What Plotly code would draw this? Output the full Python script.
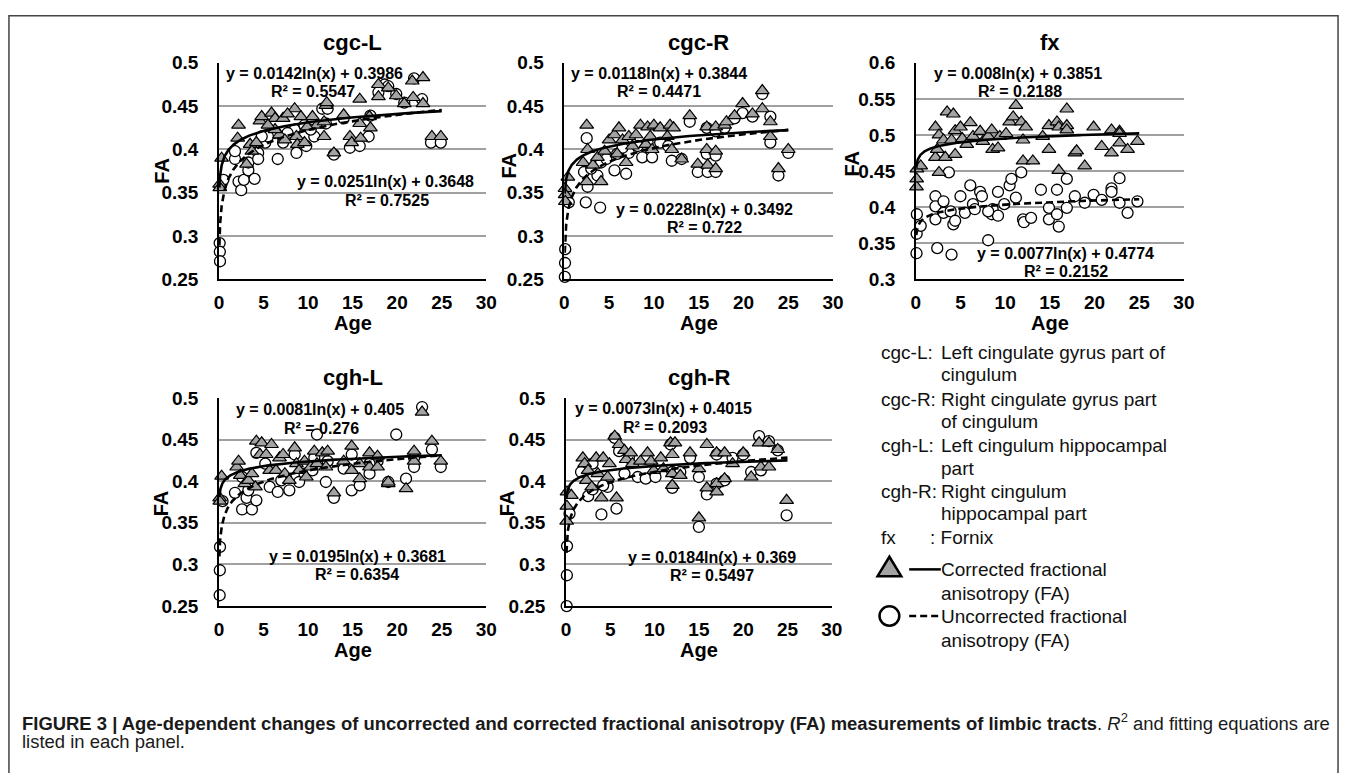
import numpy as np
import plotly.graph_objects as go

W, H = 1352, 773

# ---------------- DATA ----------------
# cgc-L
cgcL_corr_age = [0.3, 0.08, 0.1, 2.2, 2.1, 3.1, 3.5, 4.2, 4.6, 4.8, 5.9, 6.3, 6.8, 7.2, 7.4, 8.5, 8.7, 8.8, 9.2, 9.6,
                 10.5, 11.0, 11.8, 12.0, 12.1, 12.9, 14.0, 14.7, 14.9, 15.8, 15.8, 15.9, 16.9, 17.0, 17.9, 17.9, 19.0,
                 19.9, 20.8, 21.7, 21.8, 22.9, 22.9, 23.9, 24.9, 6.3, 5.5, 3.7, 7.7, 9.9, 11.8]
cgcL_corr_fa = [0.390, 0.360, 0.356, 0.428, 0.413, 0.383, 0.406, 0.408, 0.433, 0.438, 0.442, 0.436, 0.417, 0.436,
                0.411, 0.447, 0.415, 0.406, 0.438, 0.408, 0.438, 0.428, 0.415, 0.451, 0.454, 0.396, 0.440, 0.415,
                0.408, 0.458, 0.430, 0.413, 0.438, 0.425, 0.475, 0.461, 0.471, 0.462, 0.453, 0.479, 0.460, 0.483,
                0.453, 0.415, 0.415, 0.423, 0.428, 0.398, 0.441, 0.426, 0.432]
cgcL_unc_age = [0.08, 0.1, 0.12, 0.5, 1.8, 2.2, 2.5, 2.8, 3.3, 4.0, 1.8, 4.4, 6.6, 5.2, 6.3, 7.2, 8.7, 9.8, 10.7,
                11.6, 12.2, 12.0, 12.9, 14.7, 15.8, 16.8, 17.0, 18.6, 19.0, 19.9, 21.9, 22.8, 23.8, 24.9, 8.5, 9.6,
                5.5, 7.7, 14.0, 17.9, 20.8, 3.3, 4.4, 4.8, 10.3]
cgcL_unc_fa = [0.292, 0.282, 0.271, 0.365, 0.389, 0.363, 0.353, 0.365, 0.376, 0.366, 0.398, 0.396, 0.389, 0.408,
               0.419, 0.408, 0.396, 0.404, 0.415, 0.447, 0.447, 0.430, 0.394, 0.402, 0.404, 0.415, 0.439, 0.475,
               0.473, 0.464, 0.482, 0.458, 0.408, 0.408, 0.423, 0.428, 0.415, 0.419, 0.436, 0.466, 0.454, 0.385,
               0.389, 0.415, 0.423]
cgcL_fit_corr = [0.0142, 0.3986]
cgcL_fit_unc = [0.0251, 0.3648]

# cgc-R
cgcR_corr_age = [0.08, 0.1, 0.12, 0.4, 2.5, 2.1, 2.5, 2.6, 3.2, 3.7, 4.1, 4.5, 5.0, 5.6, 6.1, 5.9, 6.5, 6.9, 7.2, 7.6,
                 8.0, 8.5, 9.1, 9.3, 9.6, 10.0, 9.8, 10.7, 11.5, 11.8, 12.0, 12.2, 13.1, 14.0, 14.9, 15.9, 15.9, 16.0,
                 16.9, 16.9, 16.9, 17.9, 18.1, 19.0, 19.9, 21.0, 22.1, 22.1, 23.0, 23.0, 23.9, 25.0]
cgcR_corr_fa = [0.355, 0.348, 0.340, 0.368, 0.428, 0.385, 0.363, 0.400, 0.382, 0.391, 0.363, 0.398, 0.411, 0.417,
                0.425, 0.395, 0.411, 0.385, 0.415, 0.404, 0.417, 0.428, 0.406, 0.426, 0.415, 0.428, 0.400, 0.425,
                0.415, 0.428, 0.400, 0.425, 0.389, 0.439, 0.383, 0.426, 0.400, 0.382, 0.426, 0.398, 0.378, 0.428,
                0.432, 0.439, 0.453, 0.441, 0.447, 0.468, 0.432, 0.415, 0.378, 0.400]
cgcR_unc_age = [0.1, 0.08, 0.06, 0.5, 2.5, 2.4, 4.0, 2.2, 2.6, 3.7, 4.1, 5.6, 6.9, 7.2, 8.7, 9.8, 12.0, 13.1, 14.0,
                14.9, 15.9, 16.0, 16.9, 16.9, 19.9, 21.0, 22.1, 23.0, 23.0, 23.9, 25.0, 5.9, 6.5, 8.2, 9.3, 10.7,
                11.6, 15.9, 16.9, 17.9, 19.0, 3.0, 4.7]
cgcR_unc_fa = [0.285, 0.269, 0.253, 0.339, 0.413, 0.339, 0.333, 0.374, 0.357, 0.370, 0.385, 0.376, 0.372, 0.396,
               0.391, 0.391, 0.387, 0.389, 0.432, 0.374, 0.395, 0.374, 0.374, 0.393, 0.442, 0.438, 0.464, 0.438,
               0.408, 0.370, 0.396, 0.395, 0.402, 0.404, 0.408, 0.408, 0.404, 0.425, 0.421, 0.425, 0.436, 0.378,
               0.389]
cgcR_fit_corr = [0.0118, 0.3844]
cgcR_fit_unc = [0.0228, 0.3492]

# fx
fx_corr_age = [0.08, 0.1, 0.12, 0.55, 2.2, 2.2, 2.4, 2.6, 2.6, 3.1, 3.3, 3.5, 4.2, 4.4, 4.0, 4.4, 5.0, 5.2, 6.1, 5.7,
               6.4, 7.2, 7.5, 8.1, 8.5, 8.6, 9.2, 9.4, 10.1, 10.5, 10.9, 11.2, 11.8, 12.0, 12.0, 12.3, 13.1, 14.2,
               14.9, 14.9, 15.8, 16.0, 16.0, 16.9, 16.9, 16.9, 17.8, 18.0, 18.9, 19.9, 20.8, 21.9, 21.9, 22.8, 22.8,
               23.7, 24.8, 22.8]
fx_corr_fa = [0.428, 0.439, 0.453, 0.457, 0.511, 0.469, 0.480, 0.500, 0.448, 0.493, 0.469, 0.532, 0.529, 0.473,
              0.493, 0.506, 0.511, 0.495, 0.517, 0.487, 0.498, 0.505, 0.491, 0.498, 0.507, 0.480, 0.482, 0.498,
              0.502, 0.518, 0.525, 0.541, 0.518, 0.493, 0.464, 0.511, 0.464, 0.498, 0.513, 0.480, 0.518, 0.511,
              0.451, 0.536, 0.513, 0.507, 0.475, 0.478, 0.457, 0.511, 0.484, 0.475, 0.507, 0.505, 0.489, 0.480,
              0.491, 0.502]
fx_unc_age = [0.08, 0.1, 0.12, 0.55, 2.4, 4.0, 2.2, 2.2, 2.2, 3.1, 3.7, 3.9, 4.2, 4.4, 5.0, 5.5, 6.1, 6.4, 6.6, 7.2,
              7.4, 8.1, 8.5, 8.6, 9.2, 9.2, 9.9, 10.5, 10.7, 11.2, 11.8, 12.0, 12.1, 12.9, 14.0, 14.9, 14.9, 15.8,
              15.8, 16.0, 16.9, 16.9, 17.8, 18.9, 19.9, 20.8, 21.9, 21.9, 22.8, 22.8, 23.7, 24.8, 3.1, 8.1]
fx_unc_fa = [0.336, 0.363, 0.390, 0.374, 0.343, 0.334, 0.415, 0.401, 0.383, 0.392, 0.448, 0.394, 0.376, 0.381,
             0.415, 0.392, 0.430, 0.404, 0.397, 0.421, 0.415, 0.354, 0.390, 0.397, 0.388, 0.421, 0.404, 0.430,
             0.439, 0.413, 0.448, 0.383, 0.379, 0.385, 0.424, 0.399, 0.383, 0.424, 0.390, 0.373, 0.439, 0.399,
             0.415, 0.406, 0.417, 0.410, 0.426, 0.421, 0.440, 0.406, 0.392, 0.408, 0.408, 0.394]
fx_fit_corr = [0.0077, 0.4774]
fx_fit_unc = [0.008, 0.3851]

# cgh-L
cghL_corr_age = [0.08, 0.1, 0.3, 2.0, 2.2, 2.4, 2.9, 3.3, 3.7, 4.1, 4.2, 4.6, 4.8, 5.3, 5.9, 5.7, 6.4, 6.8, 7.2, 7.4,
                 7.9, 8.5, 8.7, 9.0, 9.6, 9.8, 10.3, 10.7, 11.0, 11.6, 12.0, 12.2, 12.9, 14.0, 14.9, 14.9, 15.8,
                 15.8, 16.9, 16.9, 17.8, 17.8, 19.0, 21.0, 21.9, 21.9, 22.8, 23.9, 24.9, 19.0]
cghL_corr_fa = [0.380, 0.376, 0.406, 0.417, 0.424, 0.407, 0.397, 0.401, 0.409, 0.393, 0.448, 0.432, 0.446, 0.432,
                0.444, 0.413, 0.413, 0.428, 0.432, 0.409, 0.401, 0.440, 0.421, 0.413, 0.424, 0.405, 0.417, 0.436,
                0.421, 0.434, 0.417, 0.436, 0.386, 0.424, 0.442, 0.413, 0.421, 0.403, 0.434, 0.417, 0.430, 0.417,
                0.397, 0.391, 0.436, 0.424, 0.483, 0.448, 0.424, 0.399]
cghL_unc_age = [0.08, 0.1, 0.12, 0.4, 1.8, 2.6, 3.1, 3.7, 4.2, 4.2, 5.7, 6.6, 7.0, 7.9, 9.0, 9.6, 10.5, 11.0, 12.0,
                12.9, 14.0, 14.9, 15.8, 16.9, 19.0, 19.9, 21.0, 21.9, 22.8, 23.9, 24.9, 5.2, 8.5, 10.7, 14.9, 17.8,
                16.9, 3.3, 2.6, 12.2, 21.9]
cghL_unc_fa = [0.263, 0.293, 0.321, 0.376, 0.386, 0.366, 0.380, 0.366, 0.377, 0.434, 0.393, 0.387, 0.401, 0.389,
               0.399, 0.409, 0.413, 0.456, 0.399, 0.380, 0.415, 0.389, 0.395, 0.409, 0.399, 0.456, 0.403, 0.417,
               0.489, 0.438, 0.417, 0.421, 0.432, 0.428, 0.432, 0.424, 0.421, 0.389, 0.405, 0.424, 0.428]
cghL_fit_corr = [0.0081, 0.405]
cghL_fit_unc = [0.0195, 0.3681]

# cgh-R
cghR_corr_age = [0.08, 0.1, 0.12, 0.6, 1.9, 2.1, 2.5, 2.3, 2.9, 3.4, 3.6, 4.0, 4.2, 4.7, 4.9, 5.7, 5.5, 6.0, 6.6, 6.8,
                 7.3, 7.5, 8.4, 9.2, 9.6, 9.9, 10.7, 11.0, 11.8, 12.0, 12.0, 12.0, 12.3, 12.9, 14.0, 15.0, 15.0,
                 15.9, 15.9, 17.0, 17.0, 17.0, 17.9, 17.9, 18.8, 20.0, 20.9, 21.8, 22.0, 22.9, 22.9, 23.9, 24.9]
cghR_corr_fa = [0.352, 0.370, 0.387, 0.383, 0.428, 0.421, 0.413, 0.401, 0.393, 0.428, 0.409, 0.380, 0.428, 0.405,
                0.421, 0.380, 0.454, 0.444, 0.437, 0.426, 0.434, 0.421, 0.424, 0.434, 0.424, 0.413, 0.428, 0.415,
                0.446, 0.432, 0.409, 0.395, 0.446, 0.407, 0.434, 0.415, 0.356, 0.444, 0.392, 0.397, 0.387, 0.434,
                0.434, 0.403, 0.421, 0.434, 0.405, 0.446, 0.417, 0.446, 0.417, 0.438, 0.377]
cghR_unc_age = [0.08, 0.1, 0.12, 0.4, 1.7, 2.5, 3.0, 4.0, 4.7, 5.7, 4.2, 5.5, 6.6, 8.1, 9.0, 10.1, 12.0, 12.0, 12.9,
                14.0, 15.0, 15.0, 15.9, 17.0, 17.9, 20.0, 20.9, 21.8, 22.0, 22.9, 23.9, 24.9, 11.8, 6.0, 7.1, 3.0,
                17.0, 18.8]
cghR_unc_fa = [0.250, 0.287, 0.322, 0.361, 0.411, 0.382, 0.390, 0.360, 0.393, 0.367, 0.395, 0.452, 0.409, 0.405,
               0.403, 0.405, 0.392, 0.411, 0.411, 0.428, 0.345, 0.405, 0.384, 0.397, 0.401, 0.432, 0.411, 0.454,
               0.413, 0.448, 0.437, 0.359, 0.444, 0.436, 0.428, 0.421, 0.432, 0.428]
cghR_fit_corr = [0.0073, 0.4015]
cghR_fit_unc = [0.0184, 0.369]

# axes ticks
x_ticks = [0, 5, 10, 15, 20, 25, 30]
y_ticks_cg = [0.25, 0.3, 0.35, 0.4, 0.45, 0.5]
y_ticklabels_cg = ["0.25", "0.3", "0.35", "0.4", "0.45", "0.5"]
y_ticks_fx = [0.3, 0.35, 0.4, 0.45, 0.5, 0.55, 0.6]
y_ticklabels_fx = ["0.3", "0.35", "0.4", "0.45", "0.5", "0.55", "0.6"]
fit_age_range = [0.05, 25]

# ---------------- LAYOUT HELPERS (page pixels -> paper) ----------------
def px(x):
    return x / W

def py(y):
    return 1 - y / H

FONT = "Liberation Sans, Arial, sans-serif"
GRAY_FILL = "#a3a3a3"

panels = [
    dict(title="cgc-L", corr=(cgcL_corr_age, cgcL_corr_fa), unc=(cgcL_unc_age, cgcL_unc_fa),
         fc=cgcL_fit_corr, fu=cgcL_fit_unc, box=(216.5, 487, 54.3, 277),
         yt=(y_ticks_cg, y_ticklabels_cg),
         eq=[("y = 0.0142ln(x) + 0.3986", 313, 65.7), ("R² = 0.5547", 311.7, 84),
             ("y = 0.0251ln(x) + 0.3648", 385, 176.7), ("R² = 0.7525", 386.7, 195.7)],
         fa=(158, 165)),
    dict(title="cgc-R", corr=(cgcR_corr_age, cgcR_corr_fa), unc=(cgcR_unc_age, cgcR_unc_fa),
         fc=cgcR_fit_corr, fu=cgcR_fit_unc, box=(566, 838, 54.3, 277),
         yt=(y_ticks_cg, y_ticklabels_cg),
         eq=[("y = 0.0118ln(x) + 0.3844", 661.7, 65), ("R² = 0.4471", 661.7, 84),
             ("y = 0.0228ln(x) + 0.3492", 708.3, 205), ("R² = 0.722", 708.3, 223.3)],
         fa=(510, 160)),
    dict(title="fx", corr=(fx_corr_age, fx_corr_fa), unc=(fx_unc_age, fx_unc_fa),
         fc=fx_fit_corr, fu=fx_fit_unc, box=(921.7, 1193, 54.3, 276.7),
         yt=(y_ticks_fx, y_ticklabels_fx),
         eq=[("y = 0.008ln(x) + 0.3851", 1025, 65), ("R² = 0.2188", 1026.7, 84),
             ("y = 0.0077ln(x) + 0.4774", 1073.3, 250.7), ("R² = 0.2152", 1073.3, 269.3)],
         fa=(857, 158)),
    dict(title="cgh-L", corr=(cghL_corr_age, cghL_corr_fa), unc=(cghL_unc_age, cghL_unc_fa),
         fc=cghL_fit_corr, fu=cghL_fit_unc, box=(216.5, 487, 398.7, 612.7),
         yt=(y_ticks_cg, y_ticklabels_cg),
         eq=[("y = 0.0081ln(x) + 0.405", 318.3, 410.7), ("R² = 0.276", 320, 430.7),
             ("y = 0.0195ln(x) + 0.3681", 356.7, 561.7), ("R² = 0.6354", 356.7, 580.7)],
         fa=(158, 507)),
    dict(title="cgh-R", corr=(cghR_corr_age, cghR_corr_fa), unc=(cghR_unc_age, cghR_unc_fa),
         fc=cghR_fit_corr, fu=cghR_fit_unc, box=(567.7, 836.7, 398.7, 612.7),
         yt=(y_ticks_cg, y_ticklabels_cg),
         eq=[("y = 0.0073ln(x) + 0.4015", 666.7, 410), ("R² = 0.2093", 668.3, 429.3),
             ("y = 0.0184ln(x) + 0.369", 715, 563.3), ("R² = 0.5497", 715, 581.7)],
         fa=(508, 507)),
]

fig = go.Figure()
annotations = []
shapes = []
fit_x = np.geomspace(fit_age_range[0], fit_age_range[1], 300)

for i, p in enumerate(panels, start=1):
    xa = "x" if i == 1 else f"x{i}"
    ya = "y" if i == 1 else f"y{i}"
    x0, x1, y0, y1 = p["box"]
    # uncorrected circles
    fig.add_trace(go.Scatter(x=p["unc"][0], y=p["unc"][1], mode="markers", xaxis=xa, yaxis=ya,
                             marker=dict(symbol="circle", size=11, color="white",
                                         line=dict(color="black", width=1.3)),
                             cliponaxis=False, showlegend=False, hoverinfo="skip"))
    # corrected triangles
    fig.add_trace(go.Scatter(x=p["corr"][0], y=p["corr"][1], mode="markers", xaxis=xa, yaxis=ya,
                             marker=dict(symbol="triangle-up", size=12, color=GRAY_FILL,
                                         line=dict(color="black", width=1.2)),
                             cliponaxis=False, showlegend=False, hoverinfo="skip"))
    # trend lines
    a, b = p["fu"]
    fig.add_trace(go.Scatter(x=fit_x, y=a * np.log(fit_x) + b, mode="lines", xaxis=xa, yaxis=ya,
                             line=dict(color="black", width=2.6, dash="7px,4px"),
                             cliponaxis=False, showlegend=False, hoverinfo="skip"))
    a, b = p["fc"]
    fig.add_trace(go.Scatter(x=fit_x, y=a * np.log(fit_x) + b, mode="lines", xaxis=xa, yaxis=ya,
                             line=dict(color="black", width=2.6),
                             cliponaxis=False, showlegend=False, hoverinfo="skip"))
    yt, ytl = p["yt"]
    fig.update_layout(**{
        ("xaxis" if i == 1 else f"xaxis{i}"): dict(
            domain=[px(x0), px(x1)], anchor=ya, range=[0, 30], tickvals=x_ticks,
            showgrid=False, zeroline=False, showline=True, linecolor="black", linewidth=2,
            ticks="", ticklabelstandoff=5,
            tickfont=dict(family=FONT, size=19, color="black", weight="bold")),
        ("yaxis" if i == 1 else f"yaxis{i}"): dict(
            domain=[py(y1), py(y0)], anchor=xa, range=[yt[0], yt[-1]], tickvals=yt, ticktext=ytl,
            showgrid=True, gridcolor="#a0a0a0", gridwidth=1.5, zeroline=False,
            showline=True, linecolor="black", linewidth=1.5, ticks="", ticklabelstandoff=15,
            tickfont=dict(family=FONT, size=19, color="black", weight="bold")),
    })
    # panel title
    annotations.append(dict(text=p["title"], x=px((x0 + x1) / 2), y=py(y0 - 21), xref="paper", yref="paper",
                            showarrow=False, xanchor="center", yanchor="middle",
                            font=dict(family=FONT, size=22, color="black", weight="bold")))
    # axis titles
    annotations.append(dict(text="FA", x=px(p["fa"][0]), y=py(p["fa"][1]), xref="paper", yref="paper",
                            showarrow=False, textangle=-90, xanchor="center", yanchor="middle",
                            font=dict(family=FONT, size=20, color="black", weight="bold")))
    annotations.append(dict(text="Age", x=px((x0 + x1) / 2), y=py(y1 + 45), xref="paper", yref="paper",
                            showarrow=False, xanchor="center", yanchor="middle",
                            font=dict(family=FONT, size=20, color="black", weight="bold")))
    # equations
    for txt, ex, ey in p["eq"]:
        annotations.append(dict(text=txt, x=px(ex), y=py(ey), xref="paper", yref="paper",
                                showarrow=False, xanchor="center", yanchor="middle",
                                font=dict(family=FONT, size=16, color="black", weight="bold")))

# ---------------- right-hand key ----------------
key_lines = [
    ("cgc-L:", "Left cingulate gyrus part of", 351.7),
    ("", "cingulum", 375),
    ("cgc-R:", "Right cingulate gyrus part", 400),
    ("", "of cingulum", 423),
    ("cgh-L:", "Left cingulum hippocampal", 448),
    ("", "part", 471.7),
    ("cgh-R:", "Right cingulum", 495),
    ("", "hippocampal part", 518),
    ("fx", ": Fornix", 542.7),
    ("", "Corrected fractional", 575),
    ("", "anisotropy (FA)", 600),
    ("", "Uncorrected fractional", 623),
    ("", "anisotropy (FA)", 648),
]
for lab, desc, yy in key_lines:
    if lab:
        annotations.append(dict(text=lab, x=px(884), y=py(yy), xref="paper", yref="paper", showarrow=False,
                                xanchor="left", yanchor="middle",
                                font=dict(family=FONT, size=19, color="#111")))
    dx = 934 if desc.startswith(":") else 945
    annotations.append(dict(text=desc, x=px(dx), y=py(yy), xref="paper", yref="paper", showarrow=False,
                            xanchor="left", yanchor="middle",
                            font=dict(family=FONT, size=19, color="#111")))

# key glyphs
tri_cx, tri_cy = 895, 574
shapes.append(dict(type="path", xref="paper", yref="paper",
                   path=(f"M {px(tri_cx-12)} {py(tri_cy+8)} L {px(tri_cx+12)} {py(tri_cy+8)} "
                         f"L {px(tri_cx)} {py(tri_cy-12)} Z"),
                   fillcolor=GRAY_FILL, line=dict(color="black", width=2.5)))
shapes.append(dict(type="line", xref="paper", yref="paper", x0=px(915), x1=px(947), y0=py(575), y1=py(575),
                   line=dict(color="black", width=2.5)))
shapes.append(dict(type="circle", xref="paper", yref="paper", x0=px(885), x1=px(905), y0=py(633), y1=py(613),
                   fillcolor="white", line=dict(color="black", width=2.5)))
shapes.append(dict(type="line", xref="paper", yref="paper", x0=px(915), x1=px(946), y0=py(623), y1=py(623),
                   line=dict(color="black", width=2.5, dash="7px,4px")))

# outer frame
shapes.append(dict(type="rect", xref="paper", yref="paper", x0=px(4), x1=px(1349), y0=py(800), y1=py(6),
                   line=dict(color="#444", width=1.5), fillcolor="rgba(0,0,0,0)"))

# caption
CAP_FONT = "Liberation Sans Narrow, Arial Narrow, Liberation Sans, Arial"
caption1 = ("<b>FIGURE 3 | Age-dependent changes of uncorrected and corrected fractional anisotropy (FA) "
            "measurements of limbic tracts</b>. <i>R</i><sup>2</sup> and fitting equations are")
caption2 = "listed in each panel."
annotations.append(dict(text=caption1, x=px(15), y=py(732), xref="paper", yref="paper", showarrow=False,
                        xanchor="left", yanchor="middle", align="left",
                        font=dict(family=CAP_FONT, size=18.45, color="#1a1a1a")))
annotations.append(dict(text=caption2, x=px(15), y=py(752), xref="paper", yref="paper", showarrow=False,
                        xanchor="left", yanchor="middle", align="left",
                        font=dict(family=CAP_FONT, size=18.45, color="#1a1a1a")))

fig.update_layout(width=W, height=H, margin=dict(l=0, r=0, t=0, b=0), paper_bgcolor="white",
                  plot_bgcolor="white", annotations=annotations, shapes=shapes, showlegend=False)

fig.write_html("out.html")
